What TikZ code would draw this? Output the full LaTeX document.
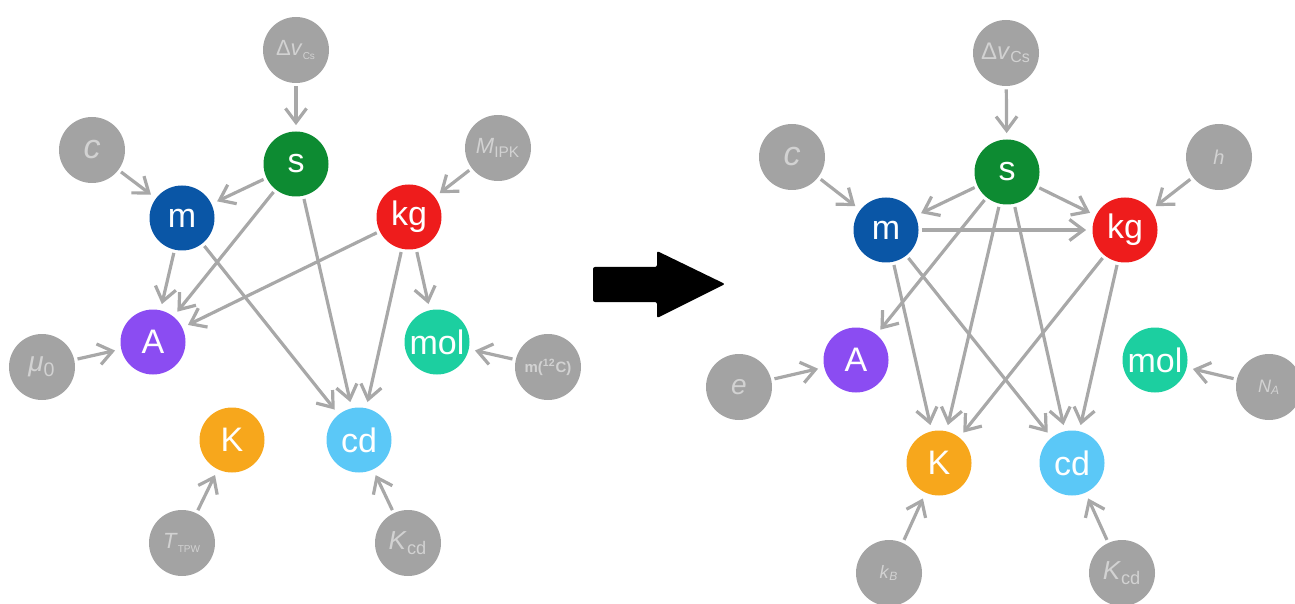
\documentclass[tikz,border=0pt]{standalone}
\usepackage{fontspec}
\setmainfont{Liberation Sans}
\usepackage{tikz}
\usetikzlibrary{arrows.meta, positioning, calc}
\definecolor{unitM}{HTML}{0A56A6}
\definecolor{unitS}{HTML}{0D8B32}
\definecolor{unitKG}{HTML}{EE1C1C}
\definecolor{unitA}{HTML}{8B4CF2}
\definecolor{unitMOL}{HTML}{1CCFA0}
\definecolor{unitK}{HTML}{F7A71C}
\definecolor{unitCD}{HTML}{5BC8F7}
\definecolor{constGray}{HTML}{A3A3A3}
\definecolor{edgeGray}{HTML}{A8A8A8}
\definecolor{constText}{HTML}{D2D2D2}
\tikzset{
    unit/.style={circle, fill=#1, draw=none, minimum size=32.5pt, inner sep=0pt,
      text=white, font=\fontsize{17}{19}\selectfont},
    const/.style={circle, fill=constGray, draw=none, minimum size=33pt, inner sep=0pt,
      text=constText, font=\fontsize{#1}{#1}\selectfont},
    const/.default=12,
    blockarrow/.style={fill=black, rounded corners=1pt},
}

\begin{document}
\begin{tikzpicture}[x=0.5pt, y=-0.5pt]
    \tikzset{
      ->,
      >={Straight Barb[length=7pt, width=10.5pt]},
      every edge/.append style={draw=edgeGray, line width=1.6pt, shorten >=3pt, shorten <=1.5pt}
    }
    \useasboundingbox (0,0) rectangle (1295,604);

    % before
    \node[unit=unitS] (sL) at (296,164) {s};
    \node[unit=unitM] (mL) at (182,218) {m};
    \node[unit=unitKG] (kgL) at (409,217) {kg};
    \node[unit=unitA] (AL) at (153,342) {A};
    \node[unit=unitMOL] (molL) at (437,342) {mol};
    \node[unit=unitK] (KL) at (232,440) {K};
    \node[unit=unitCD] (cdL) at (359,440) {cd};

    \node[const=11] (dvL) at (296,50) {Δ\textit{v}\textsubscript{\fontsize{5}{5}\selectfont Cs}};
    \node[const=17] (cL) at (92,150) {\textit{c}};
    \node[const=11] (MI) at (498,148) {\textit{M}\textsubscript{IPK}};
    \node[const=14] (mu) at (42,367) {\textit{μ}\textsubscript{0}};
    \node[const=7.5] (mC) at (548,367) {\textbf{m(\textsuperscript{12}C)}};
    \node[const=11] (TT) at (182,543) {\textit{T}\textsubscript{\fontsize{5}{5}\selectfont TPW}};
    \node[const=13] (KcdL) at (408,543) {\textit{K}\textsubscript{cd}};

    \draw (dvL) edge (sL);
    \draw (cL) edge (mL);
    \draw (MI) edge (kgL);
    \draw (sL) edge (mL);
    \draw (sL) edge (AL);
    \draw (sL) edge (cdL);
    \draw (mL) edge (AL);
    \draw (mL) edge (cdL);
    \draw (kgL) edge (AL);
    \draw (kgL) edge (cdL);
    \draw (kgL) edge (molL);
    \draw (mu) edge (AL);
    \draw (mC) edge (molL);
    \draw (TT) edge (KL);
    \draw (KcdL) edge (cdL);

    % the black arrow between both graphs
    \fill[blockarrow] (593,267) -- (657,267) -- (657,251) -- (725,284)
      -- (657,318) -- (657,302) -- (593,302) -- cycle;

    % after
    \node[unit=unitS] (sR) at (1007,172) {s};
    \node[unit=unitM] (mR) at (886,230) {m};
    \node[unit=unitKG] (kgR) at (1125,230) {kg};
    \node[unit=unitA] (AR) at (856,360) {A};
    \node[unit=unitMOL] (molR) at (1155,360) {mol};
    \node[unit=unitK] (KR) at (939,463) {K};
    \node[unit=unitCD] (cdR) at (1072,463) {cd};

    \node[const=12] (dvR) at (1006,53) {Δ\textit{v}\textsubscript{Cs}};
    \node[const=17] (cR) at (792,157) {\textit{c}};
    \node[const=10] (h) at (1219,157) {\textit{h}};
    \node[const=14] (e) at (739,387) {\textit{e}};
    \node[const=9] (NA) at (1269,387) {\textit{N}\textsubscript{\textit{A}}};
    \node[const=9] (kB) at (889,573) {\textit{k}\textsubscript{\textit{B}}};
    \node[const=13] (KcdR) at (1122,573) {\textit{K}\textsubscript{cd}};

    \draw (dvR) edge (sR);
    \draw (cR) edge (mR);
    \draw (h) edge (kgR);
    \draw (sR) edge (mR);
    \draw (sR) edge (kgR);
    \draw (sR) edge (AR);
    \draw (sR) edge (KR);
    \draw (sR) edge (cdR);
    \draw (mR) edge (kgR);
    \draw (mR) edge (KR);
    \draw (mR) edge (cdR);
    \draw (kgR) edge (KR);
    \draw (kgR) edge (cdR);
    \draw (e) edge (AR);
    \draw (NA) edge (molR);
    \draw (kB) edge (KR);
    \draw (KcdR) edge (cdR);
  \end{tikzpicture}
\end{document}
